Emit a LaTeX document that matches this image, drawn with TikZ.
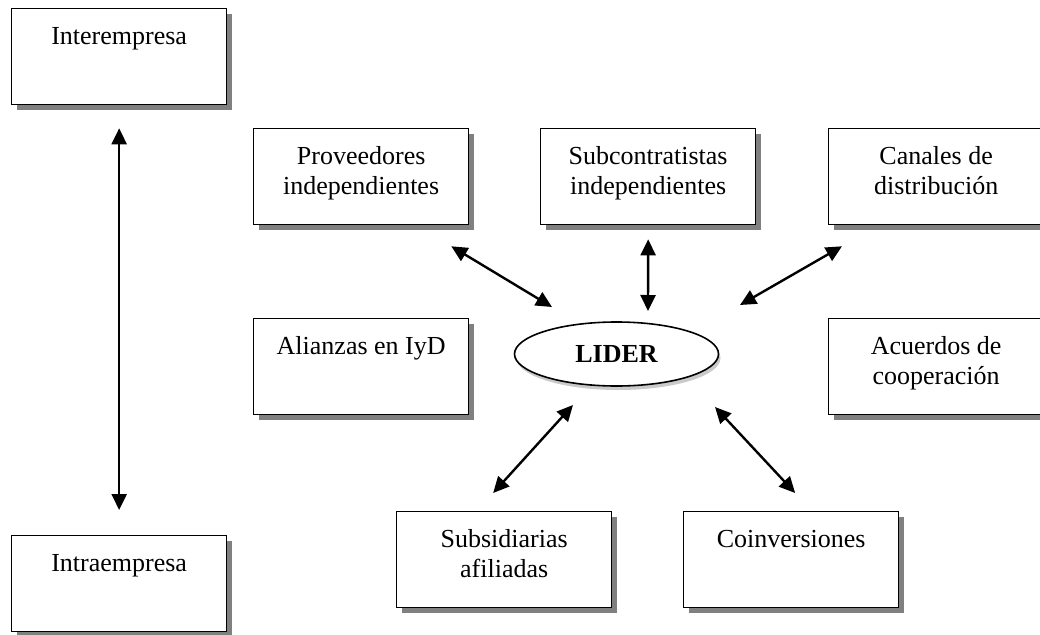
\documentclass[tikz,border=0pt]{standalone}
\usepackage{fontspec}
\setmainfont{Liberation Serif}
\usetikzlibrary{arrows.meta,shadows,shapes.geometric}

\tikzset{
  caja/.style={draw, line width=1.3pt, fill=white, inner sep=0pt, anchor=north west,
    drop shadow={shadow xshift=5pt, shadow yshift=-5pt, fill=black!50, opacity=1}},
  elipse/.style={ellipse, draw, line width=1.6pt, fill=white, inner sep=0pt,
    minimum width=204pt, minimum height=64pt,
    font=\fontsize{26}{30}\selectfont\bfseries,
    drop shadow={shadow xshift=2pt, shadow yshift=-4pt, fill=black!60, opacity=0.35}},
  flecha/.style={line width=2.4pt, {Triangle[length=16pt,width=15pt]}-{Triangle[length=16pt,width=15pt]}},
}
\newcommand{\txtcaja}[1]{\parbox[t][96pt][t]{215pt}{\centering\fontsize{26}{30}\selectfont\rule{0pt}{36pt}#1}}

\begin{document}
\begin{tikzpicture}[x=1pt,y=-1pt]
\useasboundingbox (0,0) rectangle (1040,634);

% Cajas
\node [caja] (inter) at (11,8) {\txtcaja{Interempresa}};
\node [caja] (intra) at (11,535) {\txtcaja{Intraempresa}};
\node [caja] (prov) at (253,128) {\txtcaja{Proveedores\\independientes}};
\node [caja] (subc) at (540,128) {\txtcaja{Subcontratistas\\independientes}};
\node [caja] (canal) at (828,128) {\txtcaja{Canales de\\distribución}};
\node [caja] (alian) at (253,318) {\txtcaja{Alianzas en IyD}};
\node [caja] (acuer) at (828,318) {\txtcaja{Acuerdos de\\cooperación}};
\node [caja] (subs) at (396,511) {\txtcaja{Subsidiarias\\afiliadas}};
\node [caja] (coinv) at (683,511) {\txtcaja{Coinversiones}};

% Elipse central
\node [elipse] (lider) at (616.5,354) {LIDER};

% Flechas
\draw [flecha] ([shift={(0,23)}]inter.south) -- ([shift={(0,-25)}]intra.north);
\draw [flecha] ([shift={(-18,21)}]prov.south east) -- ([shift={(-64.5,-47)}]lider.center);
\draw [flecha] ([shift={(0,14)}]subc.south) -- ([shift={(31.5,-43)}]lider.center);
\draw [flecha] ([shift={(14,21)}]canal.south west) -- ([shift={(123.5,-49)}]lider.center);
\draw [flecha] ([shift={(-11,-18)}]subs.north) -- ([shift={(-43.5,51)}]lider.center);
\draw [flecha] ([shift={(4,-18)}]coinv.north) -- ([shift={(98.5,53)}]lider.center);
\end{tikzpicture}
\end{document}
